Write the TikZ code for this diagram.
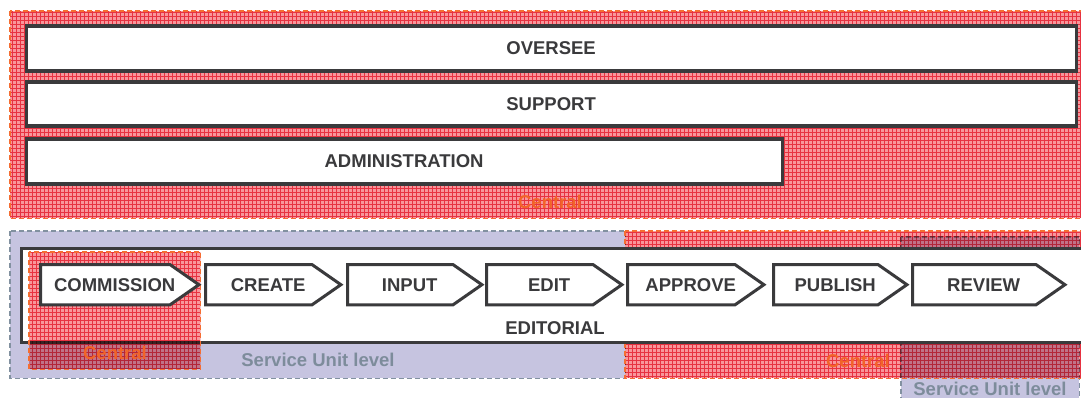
\documentclass[tikz,border=0pt]{standalone}
\usepackage{fontspec}
\setmainfont{Liberation Sans}
\usetikzlibrary{calc}
\definecolor{ink}{RGB}{58,58,60}
\definecolor{pinkbase}{RGB}{248,150,155}
\definecolor{gridred}{RGB}{238,85,107}
\definecolor{orangeline}{RGB}{245,110,50}
\definecolor{centraltext}{RGB}{242,100,40}
\definecolor{lavender}{RGB}{198,196,224}
\definecolor{sutext}{RGB}{125,140,155}
\definecolor{sudashc}{RGB}{130,145,160}
\pgfdeclarelayer{chevlayer}
\pgfdeclarelayer{chevtextlayer}
\pgfsetlayers{main,chevlayer,chevtextlayer}
\tikzset{
  every node/.style={font=\fontsize{18.5}{20}\selectfont\bfseries},
  zone/.style={draw=none, inner sep=0, anchor=north west},
  bigbox/.style={draw=ink, line width=3.2pt, fill=white, inner sep=0, anchor=north west, text=ink},
  chevtext/.style={inner sep=0, anchor=north west, text=ink, minimum height=40, text height=13.5, text depth=0pt},
  chevline/.style={draw=ink, line width=3pt, fill=white, line join=miter},
  reddash/.style={draw=orangeline, line width=1.2pt, dash pattern=on 5pt off 3pt},
  sudash/.style={draw=sudashc, line width=1.2pt, dash pattern=on 5pt off 3pt},
  centrallabel/.style={text=centraltext},
  sulabel/.style={text=sutext},
  gridlines/.style={draw=gridred, line width=0.6pt, xstep=4pt, ystep=4pt},
}
\begin{document}
\begin{tikzpicture}[x=1pt, y=-1pt]
\useasboundingbox (0,0) rectangle (1081,398);

% ---- top central zone
\node[zone, minimum width=1085, minimum height=207] (ztop) at (10,11) {};
\begin{scope}[blend mode=multiply]
  \fill[pinkbase] (ztop.north west) rectangle (ztop.south east);
  \clip (ztop.north west) rectangle (ztop.south east);
  \draw[gridlines] (ztop.north west) grid (ztop.south east);
\end{scope}
\draw[reddash] (ztop.north west) rectangle (ztop.south east);

\node[bigbox, minimum width=1050, minimum height=45] (oversee) at (24.5,24.5) {OVERSEE};
\node[bigbox, minimum width=1050, minimum height=44] (support) at (24.5,80.5) {SUPPORT};
\node[bigbox, minimum width=756, minimum height=45] (admin) at (24.5,137.5) {ADMINISTRATION};
\node[centrallabel] (ctop) at (550,202) {Central};

% ---- service unit zones
\node[zone, minimum width=615, minimum height=147] (suleft) at (10,231) {};
\fill[lavender] (suleft.north west) rectangle (suleft.south east);
\draw[sudash] (suleft.north west) rectangle (suleft.south east);

\node[zone, minimum width=178, minimum height=170] (suright) at (901,237) {};
\fill[lavender] (suright.north west) rectangle (suright.south east);
\draw[sudash] (suright.north west) rectangle (suright.south east);

% ---- right central zone
\node[zone, minimum width=470, minimum height=147] (zright) at (625,231) {};
\begin{scope}[blend mode=multiply]
  \fill[pinkbase] (zright.north west) rectangle (zright.south east);
  \clip (zright.north west) rectangle (zright.south east);
  \draw[gridlines] (zright.north west) grid (zright.south east);
\end{scope}
\draw[reddash] (zright.north west) rectangle (zright.south east);

\node[sulabel] (sul) at (318,360) {Service Unit level};
\node[centrallabel] (cright) at (858,361) {Central};
\node[sulabel] (sur) at (990,389) {Service Unit level};

% ---- editorial box
\node[bigbox, minimum width=1070, minimum height=94] (editorial) at (20,246.5) {};

% ---- small central zone
\node[zone, minimum width=171, minimum height=117] (zsmall) at (29,252) {};
\begin{scope}[blend mode=multiply]
  \fill[pinkbase] (zsmall.north west) rectangle (zsmall.south east);
  \clip (zsmall.north west) rectangle (zsmall.south east);
  \draw[gridlines] (zsmall.north west) grid (zsmall.south east);
\end{scope}
\draw[reddash] (zsmall.north west) rectangle (zsmall.south east);
\node[centrallabel] (csmall) at (115,353) {Central};

% ---- chevrons
\foreach \nm/\lx/\w/\txt in {c1/40.5/148/COMMISSION, c2/205.5/125/CREATE, c3/347.5/124/INPUT, c4/486.5/125/EDIT, c5/627.5/126/APPROVE, c6/773.5/123/PUBLISH, c7/912.5/142/REVIEW}{
  \begin{pgfonlayer}{chevtextlayer}
  \node[chevtext, minimum width=\w] (\nm) at (\lx,264.5) {\txt};
  \end{pgfonlayer}
  \begin{pgfonlayer}{chevlayer}
  \draw[chevline] (\nm.north west) -- ($(\nm.north east)+(-19,0)$) -- ($(\nm.east)+(10,0)$) -- ($(\nm.south east)+(-19,0)$) -- (\nm.south west) -- cycle;
  \end{pgfonlayer}
}
\node[text=ink] (edlabel) at (555,328) {EDITORIAL};
\end{tikzpicture}
\end{document}
